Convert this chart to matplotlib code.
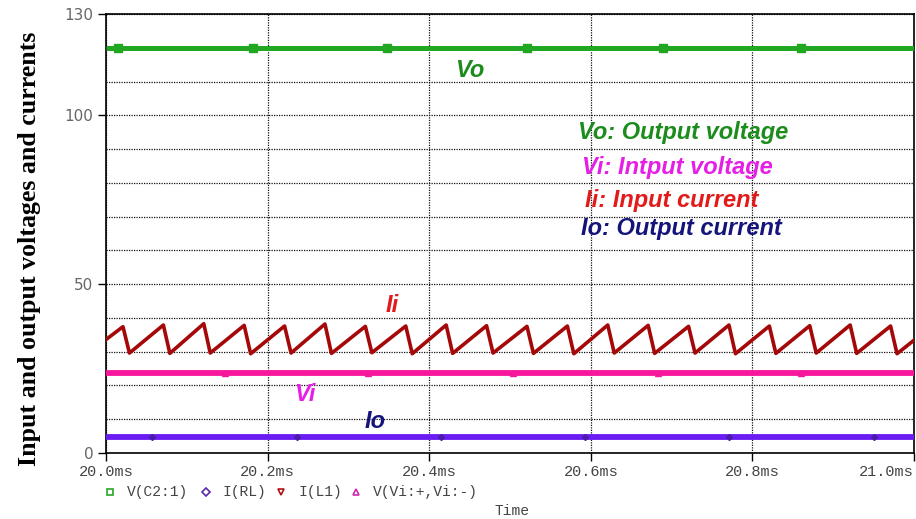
import matplotlib.pyplot as plt
import numpy as np
from matplotlib.lines import Line2D
from matplotlib.ticker import MultipleLocator

# time span of the trace (ms)
t_span = [20.0, 21.0]

# steady traces
vo_level = 119.8     # output voltage V(C2:1)
vi_level = 23.7      # input voltage V(Vi:+,Vi:-)
io_level = 4.7       # output current I(RL)

# PSpice marker positions on each trace (ms)
vo_mark_t = [20.015, 20.182, 20.348, 20.521, 20.689, 20.860]
vi_mark_t = [20.147, 20.324, 20.504, 20.683, 20.860]
io_mark_t = [20.057, 20.236, 20.415, 20.593, 20.771, 20.950]

# input current I(L1): sawtooth
ii_start = 33.6
ii_end = 33.4
ii_peak_t = [20.021, 20.071, 20.121, 20.171, 20.221, 20.271, 20.321, 20.371, 20.421, 20.471,
             20.521, 20.571, 20.621, 20.671, 20.721, 20.771, 20.821, 20.871, 20.921, 20.971]
ii_peak = [37.4, 37.9, 38.3, 37.8, 37.6, 38.2, 37.5, 37.6, 37.9, 37.7,
           37.5, 37.6, 37.9, 37.8, 37.5, 37.9, 37.6, 37.7, 37.9, 37.6]
ii_trough_t = [20.029, 20.079, 20.129, 20.179, 20.229, 20.279, 20.329, 20.379, 20.429, 20.479,
               20.529, 20.579, 20.629, 20.679, 20.729, 20.779, 20.829, 20.879, 20.929, 20.979]
ii_trough = [29.6, 29.5, 29.6, 29.4, 29.6, 29.5, 29.7, 29.4, 29.5, 29.6,
             29.5, 29.4, 29.6, 29.5, 29.6, 29.4, 29.5, 29.6, 29.5, 29.4]

x_ticks = [20.0, 20.2, 20.4, 20.6, 20.8, 21.0]
x_ticklabels = ['20.0ms', '20.2ms', '20.4ms', '20.6ms', '20.8ms', '21.0ms']
y_ticks = [0, 50, 100, 130]

c_vo, c_vi, c_ii, c_io = '#22a722', '#f7179c', '#a50808', '#6a1cf2'

fig = plt.figure(figsize=(9.16, 5.19), dpi=100)
ax = fig.add_axes([106 / 916, 1 - 453 / 519, 808 / 916, 439 / 519])

# build the sawtooth from the peak / trough lists
ii_t = [t_span[0]]
ii = [ii_start]
for tp, p, tt, tr in zip(ii_peak_t, ii_peak, ii_trough_t, ii_trough):
    ii_t += [tp, tt]
    ii += [p, tr]
ii_t.append(t_span[1])
ii.append(ii_end)

ax.plot(t_span, [vo_level] * 2, color=c_vo, lw=3.6, solid_capstyle='butt', zorder=3)
ax.plot(vo_mark_t, [vo_level] * len(vo_mark_t), 's', color=c_vo, ms=6, zorder=4)
ax.plot(t_span, [vi_level] * 2, color=c_vi, lw=4.2, solid_capstyle='butt', zorder=3)
ax.plot(vi_mark_t, [vi_level] * len(vi_mark_t), '^', color=c_vi, ms=5, zorder=4)
ax.plot(t_span, [io_level] * 2, color=c_io, lw=4.2, solid_capstyle='butt', zorder=3)
ax.plot(io_mark_t, [io_level] * len(io_mark_t), 'D', color='#4a1aa8', ms=3, zorder=4)
ax.plot(ii_t, ii, color=c_ii, lw=2.6, zorder=3)

ax.set_xlim(t_span)
ax.set_ylim(0, 130)
ax.set_xticks(x_ticks)
ax.set_xticklabels(x_ticklabels, family='Liberation Mono', fontsize=11, color='#444444')
ax.get_xticklabels()[-1].set_horizontalalignment('right')
ax.get_xticklabels()[-1].set_x(21.0)
ax.set_yticks(y_ticks)
ax.set_yticklabels([str(v) for v in y_ticks], family='DejaVu Sans', fontsize=11, color='#666666')
ax.yaxis.set_minor_locator(MultipleLocator(10))
ax.tick_params(which='major', direction='out', length=6, width=1, colors='black', pad=3)
ax.tick_params(axis='x', labelcolor='#444444')
ax.tick_params(axis='y', labelcolor='#666666')
ax.tick_params(which='minor', length=0)
ax.grid(True, which='both', color='#111111', lw=0.9, ls=(0, (1, 1)), zorder=1)
for s in ax.spines.values():
    s.set_linewidth(1.2)

# trace names and key
lab = dict(family='Liberation Sans', fontweight='bold', fontstyle='italic', fontsize=17)
ax.text(20.450, 113.4, 'Vo', color='#1c8c1c', ha='center', va='center', **lab)
ax.text(20.354, 43.8, 'Ii', color='#e21a1a', ha='center', va='center', **lab)
ax.text(20.246, 17.2, 'Vi', color='#e51fe5', ha='center', va='center', **lab)
ax.text(20.333, 9.2, 'Io', color='#14147a', ha='center', va='center', **lab)
ax.text(20.584, 94.8, 'Vo: Output voltage', color='#1c8c1c', va='center', **lab)
ax.text(20.589, 84.4, 'Vi: Intput voltage', color='#e51fe5', va='center', **lab)
ax.text(20.593, 74.9, 'Ii: Input current', color='#e21a1a', va='center', **lab)
ax.text(20.588, 66.6, 'Io: Output current', color='#14147a', va='center', **lab)

fig.text(30 / 916, 1 - 249 / 519, 'Input and output voltages and currents', rotation=90,
         family='Liberation Serif', fontweight='bold', fontsize=18.6, ha='center', va='center')

# PSpice style trace key under the axis
key = [('s', '#2aa52a', 'V(C2:1)', 110), ('D', '#5a2ab0', 'I(RL)', 206),
       ('v', '#b01010', 'I(L1)', 281), ('^', '#d02ab0', 'V(Vi:+,Vi:-)', 356)]
ky = 1 - 492 / 519
for m, c, name, x in key:
    fig.add_artist(Line2D([x / 916], [ky], marker=m, color=c, mfc='none', ms=5 if m != 'D' else 4,
                          mew=1.2, transform=fig.transFigure))
    fig.text((x + 17) / 916, ky, name, family='Liberation Mono', fontsize=10.5,
             color='#444444', va='center')
fig.text(512 / 916, 1 - 511 / 519, 'Time', family='Liberation Mono', fontsize=10.5,
         color='#444444', ha='center', va='center')

fig.savefig('out.png', dpi=100)
